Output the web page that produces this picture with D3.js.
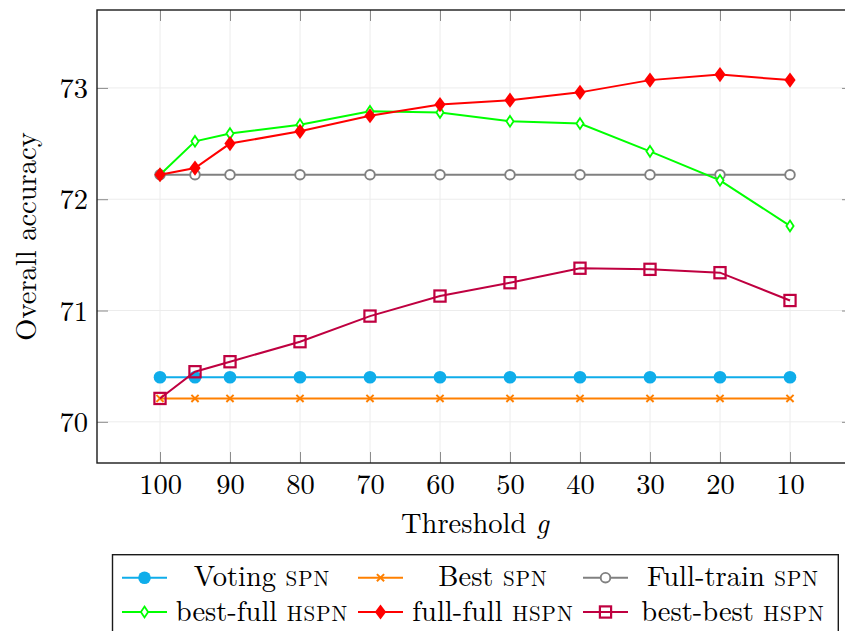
<!DOCTYPE html>
<html>
<head>
<meta charset="utf-8">
<script src="https://cdn.jsdelivr.net/npm/d3@7"></script>
<style>
  body { margin: 0; background: #fff; }
  text { font-family: "Latin Modern Roman", "Liberation Serif", serif; fill: #000; }
</style>
</head>
<body>
<svg id="chart" width="845" height="631"></svg>
<script>
// Threshold values g and tick labels
const thresholds = [100, 95, 90, 80, 70, 60, 50, 40, 30, 20, 10];
const xTicks = [100, 90, 80, 70, 60, 50, 40, 30, 20, 10];
const yTicks = [70, 71, 72, 73];

// Overall accuracy per method
const votingSPN    = [70.40, 70.40, 70.40, 70.40, 70.40, 70.40, 70.40, 70.40, 70.40, 70.40, 70.40];
const bestSPN      = [70.21, 70.21, 70.21, 70.21, 70.21, 70.21, 70.21, 70.21, 70.21, 70.21, 70.21];
const fullTrainSPN = [72.22, 72.22, 72.22, 72.22, 72.22, 72.22, 72.22, 72.22, 72.22, 72.22, 72.22];
const bestFullHSPN = [72.22, 72.52, 72.59, 72.67, 72.79, 72.78, 72.70, 72.68, 72.43, 72.17, 71.76];
const fullFullHSPN = [72.22, 72.28, 72.50, 72.61, 72.75, 72.85, 72.89, 72.96, 73.07, 73.12, 73.07];
const bestBestHSPN = [70.21, 70.45, 70.54, 70.72, 70.95, 71.13, 71.25, 71.38, 71.37, 71.34, 71.09];

const series = [
  { name: "Voting", tag: "SPN",  values: votingSPN,    color: "#0fadea", marker: "dot" },
  { name: "Best", tag: "SPN",    values: bestSPN,      color: "#ff8000", marker: "x" },
  { name: "Full-train", tag: "SPN", values: fullTrainSPN, color: "#808080", marker: "ocircle" },
  { name: "best-full", tag: "HSPN", values: bestFullHSPN, color: "#00ff00", marker: "odiamond" },
  { name: "full-full", tag: "HSPN", values: fullFullHSPN, color: "#ff0000", marker: "diamond" },
  { name: "best-best", tag: "HSPN", values: bestBestHSPN, color: "#bf0040", marker: "osquare" }
];

const FONT = 28.5, CAPS = 21;
const svg = d3.select("#chart");
const pLeft = 97, pRight = 853, pTop = 10, pBottom = 463;

const x = d3.scaleLinear().domain([109, 1]).range([pLeft, pRight]);
const y = d3.scaleLinear().domain([69.63, 73.70]).range([pBottom, pTop]);

// grid
const grid = svg.append("g");
grid.selectAll(".gx").data(xTicks).join("line")
  .attr("x1", d => x(d)).attr("x2", d => x(d))
  .attr("y1", pTop).attr("y2", pBottom)
  .attr("stroke", "#ececec").attr("stroke-width", 1);
grid.selectAll(".gy").data(yTicks).join("line")
  .attr("y1", d => y(d)).attr("y2", d => y(d))
  .attr("x1", pLeft).attr("x2", pRight)
  .attr("stroke", "#ececec").attr("stroke-width", 1);

// axes with inward ticks on all four sides
const tickLen = 11;
const axB = d3.axisBottom(x).tickValues(xTicks).tickSize(-tickLen);
const axT = d3.axisTop(x).tickValues(xTicks).tickSize(-tickLen).tickFormat("");
const axL = d3.axisLeft(y).tickValues(yTicks).tickSize(-tickLen).tickPadding(9).tickFormat(d3.format("d"));
const axR = d3.axisRight(y).tickValues(yTicks).tickSize(-tickLen).tickFormat("");

function styleAxis(g) {
  g.attr("font-family", null);
  g.select(".domain").remove();
  g.selectAll(".tick line").attr("stroke", "#8c8c8c").attr("stroke-width", 1);
  g.selectAll(".tick text").attr("font-size", FONT);
}
svg.append("g").attr("transform", `translate(0,${pBottom})`).call(axB).call(styleAxis)
  .selectAll(".tick text").attr("y", 31).attr("dy", null);
svg.append("g").attr("transform", `translate(0,${pTop})`).call(axT).call(styleAxis);
svg.append("g").attr("transform", `translate(${pLeft},0)`).call(axL).call(styleAxis)
  .selectAll(".tick text").attr("dy", null).attr("y", 9.5);
svg.append("g").attr("transform", `translate(${pRight},0)`).call(axR).call(styleAxis);

// frame
svg.append("rect").attr("x", pLeft).attr("y", pTop)
  .attr("width", pRight - pLeft).attr("height", pBottom - pTop)
  .attr("fill", "none").attr("stroke", "#1a1a1a").attr("stroke-width", 1.4);

// marker drawing
function drawMarker(g, type, color, cx, cy) {
  if (type === "dot") {
    g.append("circle").attr("cx", cx).attr("cy", cy).attr("r", 6.3).attr("fill", color);
  } else if (type === "x") {
    const s = 3.6;
    g.append("path").attr("d", `M${cx-s},${cy-s}L${cx+s},${cy+s}M${cx-s},${cy+s}L${cx+s},${cy-s}`)
      .attr("stroke", color).attr("stroke-width", 2).attr("fill", "none");
  } else if (type === "ocircle") {
    g.append("circle").attr("cx", cx).attr("cy", cy).attr("r", 4.8)
      .attr("fill", "#fff").attr("stroke", color).attr("stroke-width", 1.9);
  } else if (type === "odiamond") {
    const w = 3.6, h = 5.4;
    g.append("path").attr("d", `M${cx},${cy-h}L${cx+w},${cy}L${cx},${cy+h}L${cx-w},${cy}Z`)
      .attr("fill", "#fff").attr("stroke", color).attr("stroke-width", 1.8);
  } else if (type === "diamond") {
    const w = 5.6, h = 7.6;
    g.append("path").attr("d", `M${cx},${cy-h}L${cx+w},${cy}L${cx},${cy+h}L${cx-w},${cy}Z`)
      .attr("fill", color);
  } else if (type === "osquare") {
    const s = 5.6;
    g.append("rect").attr("x", cx - s).attr("y", cy - s).attr("width", 2 * s).attr("height", 2 * s)
      .attr("fill", "none").attr("stroke", color).attr("stroke-width", 2.2);
  }
}

const line = d3.line().x(d => x(d[0])).y(d => y(d[1]));
const plot = svg.append("g");
series.forEach(s => {
  const pts = thresholds.map((t, i) => [t, s.values[i]]);
  const g = plot.append("g");
  g.append("path").attr("d", line(pts)).attr("fill", "none")
    .attr("stroke", s.color).attr("stroke-width", 2);
  pts.forEach(p => drawMarker(g, s.marker, s.color, x(p[0]), y(p[1])));
});

// axis titles
svg.append("text").attr("x", (pLeft + pRight) / 2).attr("y", 533)
  .attr("text-anchor", "middle").attr("font-size", FONT)
  .call(t => { t.append("tspan").text("Threshold "); t.append("tspan").attr("font-style", "italic").text("g"); });
svg.append("text").attr("transform", `translate(36,${(pTop + pBottom) / 2}) rotate(-90)`)
  .attr("text-anchor", "middle").attr("font-size", FONT).text("Overall accuracy");

// legend
const lg = svg.append("g");
lg.append("rect").attr("x", 112.5).attr("y", 554.7).attr("width", 725.8).attr("height", 90)
  .attr("fill", "#fff").attr("stroke", "#1a1a1a").attr("stroke-width", 1.4);
const colImg = [[122, 167], [358, 403], [583, 628]];
const colText = [262, 493, 733];
const rowY = [577.7, 612];
series.forEach((s, i) => {
  const c = i % 3, r = Math.floor(i / 3);
  const cy = rowY[r];
  lg.append("line").attr("x1", colImg[c][0]).attr("x2", colImg[c][1])
    .attr("y1", cy).attr("y2", cy).attr("stroke", s.color).attr("stroke-width", 2);
  drawMarker(lg, s.marker, s.color, (colImg[c][0] + colImg[c][1]) / 2, cy);
  const t = lg.append("text").attr("x", colText[c]).attr("y", cy + 8.5)
    .attr("text-anchor", "middle").attr("font-size", FONT);
  t.append("tspan").text(s.name + " ");
  t.append("tspan").attr("font-size", CAPS).attr("letter-spacing", 1).text(s.tag);
});
</script>
</body>
</html>
